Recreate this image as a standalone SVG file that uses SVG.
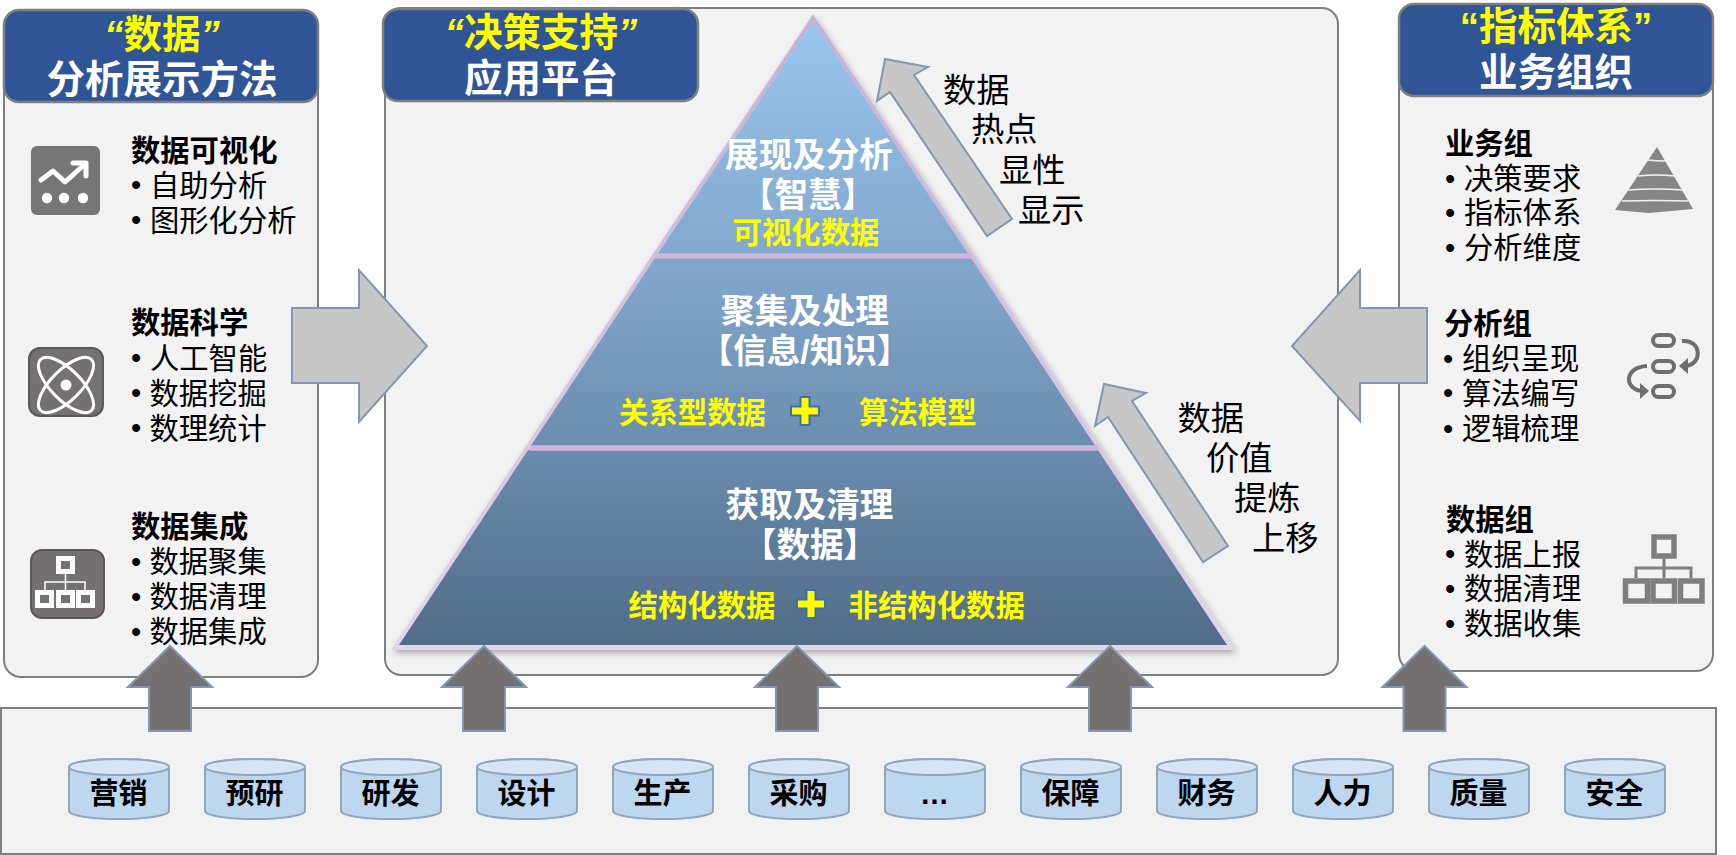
<svg xmlns="http://www.w3.org/2000/svg" xmlns:xlink="http://www.w3.org/1999/xlink" width="1736" height="855" viewBox="0 0 1736 855">
<style>
text{font-family:"Liberation Sans","Noto Sans CJK SC",sans-serif;dominant-baseline:central;fill:#000}
.panel{fill:#F2F2F2;stroke:#7F7F7F;stroke-width:2}
.hdr{fill:#2F5597;stroke:#7F7F7F;stroke-width:2.5}
.h{font-size:38.5px;font-weight:700;text-anchor:middle}
.y{fill:#FFFF00}.w{fill:#FFFFFF}
.q{font-style:italic}
.b{font-size:29.3px;font-weight:700}
.t{font-size:29.3px}
.s{font-size:33.3px}
.m{font-size:33.6px;font-weight:700;text-anchor:middle;fill:#FFFFFF}
.k{font-size:29.4px;font-weight:700;fill:#FFFF00}
.c{font-size:29px;font-weight:700;text-anchor:middle}
.big{fill:#C7C7C7;stroke:#8497B0;stroke-width:2}
.up{fill:#767171;stroke:#8497B0;stroke-width:2}
.seg{fill:url(#pg);stroke:url(#ps);stroke-width:4}
.sep{stroke:#CDB5DC;stroke-width:5.500}
.base{stroke:#E2D6EC;stroke-width:5}
.plus{fill:#FFFF00;stroke:#3F6FA8;stroke-width:2}
.cyl{fill:#BDD7EE;stroke:#8FA6C3;stroke-width:2}
.cap{fill:#D6E4F3;stroke:#8FA6C3;stroke-width:2}
.wl{fill:none;stroke:#fff;stroke-linecap:round;stroke-linejoin:round}
.ic{fill:#767171;stroke:#595959;stroke-width:2}
.gl{fill:none;stroke:#6E6E6E;stroke-width:4}
</style>
<defs>
<linearGradient id="pg" gradientUnits="userSpaceOnUse" x1="0" y1="15" x2="0" y2="649">
<stop offset="0" stop-color="#9AC6EE"/><stop offset=".38" stop-color="#83A8CD"/><stop offset=".68" stop-color="#6B8DAE"/><stop offset="1" stop-color="#516B87"/>
</linearGradient>
<linearGradient id="ps" gradientUnits="userSpaceOnUse" x1="0" y1="15" x2="0" y2="649">
<stop offset="0" stop-color="#C5B1D8"/><stop offset="1" stop-color="#E2D4EC"/>
</linearGradient>
<filter id="sh" x="-5%" y="-5%" width="110%" height="110%"><feDropShadow dx="2" dy="3" stdDeviation="3" flood-color="#000" flood-opacity=".3"/></filter>
<polygon id="uparrow" class="up" points="0,646 42,687 21,687 21,731 -21,731 -21,687 -42,687"/>
<g id="db"><path class="cyl" d="M0,767a50,8 0 0 1 100,0V811a50,8 0 0 1-100,0Z"/><ellipse class="cap" cx="50" cy="767" rx="50" ry="8"/></g>
</defs>

<g id="source-panel"><rect class="panel" x="1" y="708" width="1715" height="146"/></g>

<g id="left-panel">
<rect class="panel" x="4" y="14" width="314" height="663" rx="17"/>
<rect class="hdr" x="4" y="10" width="314" height="92" rx="15"/>
<text class="h y" x="162" y="34"><tspan class="q">“</tspan>数据<tspan class="q">”</tspan></text>
<text class="h w" x="162" y="79">分析展示方法</text>
<text class="b" x="131" y="150">数据可视化</text>
<text class="t" x="131" y="184.500">•<tspan x="150">自助分析</tspan></text>
<text class="t" x="131" y="219.500">•<tspan x="150">图形化分析</tspan></text>
<text class="b" x="131" y="322.500">数据科学</text>
<text class="t" x="131" y="357.500">•<tspan x="150">人工智能</tspan></text>
<text class="t" x="131" y="392.500">•<tspan x="149.500">数据挖掘</tspan></text>
<text class="t" x="131" y="427.500">•<tspan x="149.500">数理统计</tspan></text>
<text class="b" x="131" y="526">数据集成</text>
<text class="t" x="131" y="561">•<tspan x="149.500">数据聚集</tspan></text>
<text class="t" x="131" y="596">•<tspan x="149.500">数据清理</tspan></text>
<text class="t" x="131" y="631">•<tspan x="149.500">数据集成</tspan></text>
<g id="icon-visual">
<rect x="31" y="146" width="69" height="69" rx="6" fill="#767676"/>
<polyline class="wl" stroke-width="5" points="41,180 53,171 65,182 85,164"/>
<polyline class="wl" stroke-width="5" points="73,163 86,163 86,176"/>
<circle cx="47" cy="198" r="5.2" fill="#fff"/><circle cx="64" cy="198" r="5.2" fill="#fff"/><circle cx="83" cy="198" r="5.2" fill="#fff"/>
</g>
<g id="icon-atom">
<rect class="ic" x="29" y="348" width="74" height="68" rx="11"/>
<ellipse class="wl" stroke-width="3" cx="66" cy="385" rx="36" ry="15" transform="rotate(45 66 385)"/>
<ellipse class="wl" stroke-width="3" cx="66" cy="385" rx="36" ry="15" transform="rotate(-45 66 385)"/>
<circle cx="66" cy="385" r="5.5" fill="#fff"/>
</g>
<g id="icon-org-left">
<rect class="ic" x="31" y="550" width="73" height="68" rx="11"/>
<path d="M65.500,574V582M45,590V582H85V590M65.500,582V590" fill="none" stroke="#fff" stroke-width="1.500"/>
<g fill="#767171" stroke="#fff" stroke-width="5">
<rect x="58.500" y="558.500" width="14" height="13"/>
<rect x="37.500" y="592.500" width="14" height="13"/><rect x="58.500" y="592.500" width="14" height="13"/><rect x="78.500" y="592.500" width="14" height="13"/>
</g>
</g>
</g>

<g id="center-panel">
<rect class="panel" x="385" y="8" width="953" height="667" rx="16"/>
<g id="pyramid" filter="url(#sh)">
<polygon class="seg" points="813,18 654,256 972,256"/>
<polygon class="seg" points="654,256 972,256 1099,448 527,448"/>
<polygon class="seg" points="527,448 1099,448 1231,647.500 395,647.500"/>
<line class="sep" x1="655" y1="256" x2="972" y2="256"/>
<line class="sep" x1="530" y1="448" x2="1098" y2="448"/>
<line class="base" x1="395" y1="647.500" x2="1231" y2="647.500"/>
</g>
<text class="m" x="809" y="155">展现及分析</text>
<text class="m" x="808" y="195">【智慧】</text>
<text class="k" text-anchor="middle" x="806" y="232.500">可视化数据</text>
<text class="m" x="805" y="311">聚集及处理</text>
<text class="m" x="805" y="351">【信息/知识】</text>
<text class="k" x="619" y="412">关系型数据</text>
<polygon class="plus" points="800.500,397 809.500,397 809.500,406.500 819,406.500 819,415.500 809.500,415.500 809.500,425 800.500,425 800.500,415.500 791,415.500 791,406.500 800.500,406.500"/>
<text class="k" x="859" y="412">算法模型</text>
<text class="m" x="809.500" y="505">获取及清理</text>
<text class="m" x="810" y="545">【数据】</text>
<text class="k" x="628.500" y="605.500">结构化数据</text>
<polygon class="plus" points="806.500,590 815.500,590 815.500,599.500 825,599.500 825,608.500 815.500,608.500 815.500,618 806.500,618 806.500,608.500 797,608.500 797,599.500 806.500,599.500"/>
<text class="k" x="848.500" y="605.500">非结构化数据</text>
<rect class="hdr" x="383" y="9" width="315" height="92" rx="15"/>
<text class="h y" x="541" y="32"><tspan class="q">“</tspan>决策支持<tspan class="q">”</tspan></text>
<text class="h w" x="541" y="78">应用平台</text>
<text class="s" x="943" y="90">数据</text>
<text class="s" x="971" y="129">热点</text>
<text class="s" x="999" y="170">显性</text>
<text class="s" x="1018" y="210">显示</text>
<text class="s" x="1177.500" y="418">数据</text>
<text class="s" x="1206" y="458">价值</text>
<text class="s" x="1234" y="498">提炼</text>
<text class="s" x="1252" y="538">上移</text>
</g>

<g id="right-panel">
<rect class="panel" x="1399" y="8" width="314" height="663" rx="17"/>
<rect class="hdr" x="1399" y="4" width="314" height="92" rx="15"/>
<text class="h y" x="1556" y="26">“指标体系”</text>
<text class="h w" x="1556" y="72.500">业务组织</text>
<text class="b" x="1445" y="143.500">业务组</text>
<text class="t" x="1445" y="178">•<tspan x="1464">决策要求</tspan></text>
<text class="t" x="1445" y="212">•<tspan x="1464">指标体系</tspan></text>
<text class="t" x="1445" y="247">•<tspan x="1464">分析维度</tspan></text>
<text class="b" x="1444" y="323">分析组</text>
<text class="t" x="1443" y="358">•<tspan x="1462">组织呈现</tspan></text>
<text class="t" x="1443" y="392.500">•<tspan x="1462">算法编写</tspan></text>
<text class="t" x="1443" y="428">•<tspan x="1462">逻辑梳理</tspan></text>
<text class="b" x="1446" y="519">数据组</text>
<text class="t" x="1445" y="553.500">•<tspan x="1464">数据上报</tspan></text>
<text class="t" x="1445" y="588">•<tspan x="1464">数据清理</tspan></text>
<text class="t" x="1445" y="623">•<tspan x="1464">数据收集</tspan></text>
<g id="icon-pyramid">
<polygon points="1657,147 1693,209 1649,213 1615,210" fill="#868686"/>
<g fill="none" stroke="#F2F2F2" stroke-width="1.500"><path d="M1647,160Q1656,161 1666,161M1638,176Q1656,174 1675,176M1628,190Q1655,188 1683,190M1622,201Q1655,200 1688,201"/></g>
</g>
<g id="icon-loop">
<g class="gl"><rect x="1653" y="335" width="21" height="11" rx="5.500"/><rect x="1653" y="361" width="21" height="11" rx="5.500"/><rect x="1653" y="386" width="21" height="11" rx="5.500"/>
<path d="M1682,341C1702,339 1703,365 1685,366M1647,366C1623,367 1624,391 1644,391"/></g>
<polygon points="1679,366 1688,358 1688,374" fill="#6E6E6E"/>
<polygon points="1649,391 1640,383 1640,399" fill="#6E6E6E"/>
</g>
<g id="icon-org-right">
<path d="M1664,558V578M1636,578V568H1691V578" fill="none" stroke="#7F7F7F" stroke-width="3"/>
<g fill="#F2F2F2" stroke="#7F7F7F" stroke-width="5.500">
<rect x="1654" y="537" width="20" height="19"/>
<rect x="1625.500" y="581" width="22" height="20"/><rect x="1653" y="581" width="21.500" height="20"/><rect x="1680.500" y="581" width="21.500" height="20"/>
</g>
</g>
</g>

<g id="sources">
<g id="db-01"><use href="#db" x="69"/><text class="c" x="118.500" y="794">营销</text></g>
<g id="db-02"><use href="#db" x="205"/><text class="c" x="254.500" y="794">预研</text></g>
<g id="db-03"><use href="#db" x="341"/><text class="c" x="390.500" y="794">研发</text></g>
<g id="db-04"><use href="#db" x="477"/><text class="c" x="526.500" y="794">设计</text></g>
<g id="db-05"><use href="#db" x="613"/><text class="c" x="662.500" y="794">生产</text></g>
<g id="db-06"><use href="#db" x="749"/><text class="c" x="798.500" y="794">采购</text></g>
<g id="db-07"><use href="#db" x="885"/><text class="c" x="934.500" y="794">…</text></g>
<g id="db-08"><use href="#db" x="1021"/><text class="c" x="1070.500" y="794">保障</text></g>
<g id="db-09"><use href="#db" x="1157"/><text class="c" x="1206.500" y="794">财务</text></g>
<g id="db-10"><use href="#db" x="1293"/><text class="c" x="1342.500" y="794">人力</text></g>
<g id="db-11"><use href="#db" x="1429"/><text class="c" x="1478.500" y="794">质量</text></g>
<g id="db-12"><use href="#db" x="1565"/><text class="c" x="1614.500" y="794">安全</text></g>
</g>

<g id="connectors">
<polygon class="big" points="292,308 359,308 359,270 427,346 359,422 359,383 292,383"/>
<polygon class="big" points="1427,308 1360,308 1360,270 1292,346 1360,421 1360,383 1427,383"/>
<polygon class="big" points="885,59 928,67 914,75 1012,219 987,236 890,92 877,101"/>
<polygon class="big" points="1104,384 1146,393 1132,401 1228,546 1203,562 1108,417 1095,426"/>
<use href="#uparrow" x="170"/>
<use href="#uparrow" x="484"/>
<use href="#uparrow" x="797"/>
<use href="#uparrow" x="1110"/>
<use href="#uparrow" x="1424.500"/>
</g>
</svg>
